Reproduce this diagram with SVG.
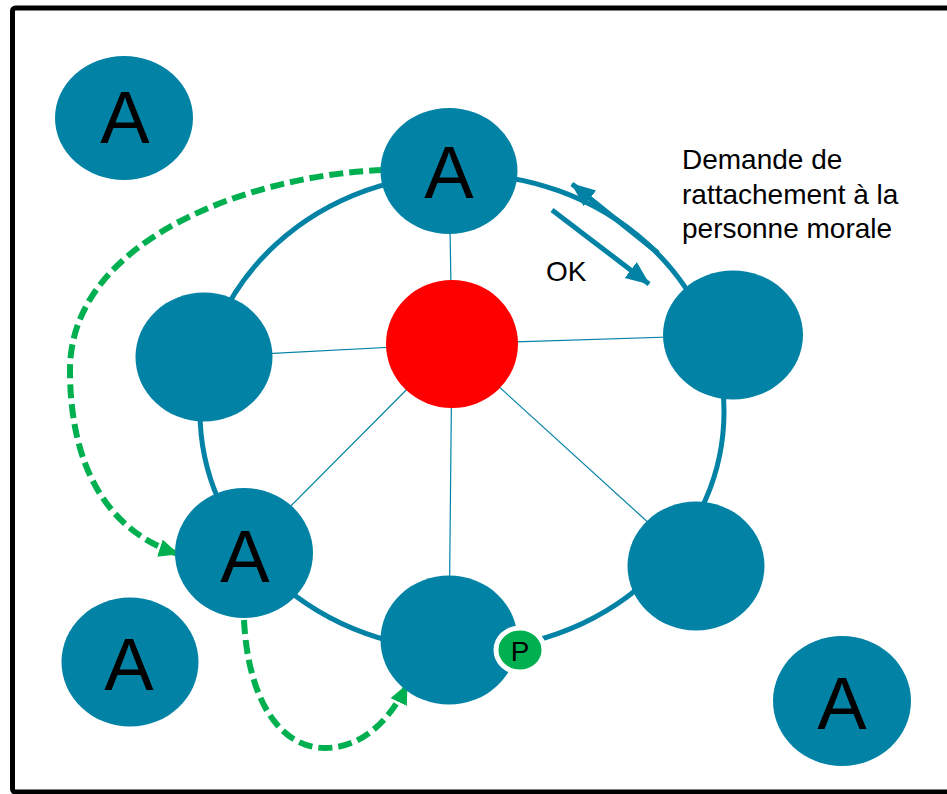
<svg xmlns="http://www.w3.org/2000/svg" width="947" height="794" viewBox="0 0 947 794">
<style>
.node{fill:#0282A5}
.lbl{font-family:"Liberation Sans",Arial,sans-serif;fill:#000}
.big{font-size:74px;text-anchor:middle}
.ring{fill:none;stroke:#0282A5;stroke-width:5}
.spoke{stroke:#0282A5;stroke-width:1.2}
.green{fill:none;stroke:#00B050;stroke-width:6;stroke-dasharray:14 6}
.teal{fill:none;stroke:#0282A5;stroke-width:5}
</style>
<defs>
<marker id="gh" markerUnits="userSpaceOnUse" markerWidth="22" markerHeight="20" refX="19" refY="9" orient="auto">
<path d="M0,0 L20,9 L0,18 z" fill="#00B050"/>
</marker>
<marker id="th" markerUnits="userSpaceOnUse" markerWidth="26" markerHeight="22" refX="23" refY="10" orient="auto">
<path d="M0,0 L24,10 L0,20 z" fill="#0282A5"/>
</marker>
</defs>
<rect x="12.5" y="8" width="945" height="784" rx="3" fill="#fff" stroke="#000" stroke-width="5"/>
<g id="connectors">
<ellipse class="ring" cx="462" cy="412" rx="262" ry="238"/>
<line class="spoke" x1="452" y1="344" x2="204" y2="357"/>
<line class="spoke" x1="452" y1="344" x2="449" y2="171"/>
<line class="spoke" x1="452" y1="344" x2="733" y2="335"/>
<line class="spoke" x1="452" y1="344" x2="244" y2="553"/>
<line class="spoke" x1="452" y1="344" x2="449" y2="640"/>
<line class="spoke" x1="452" y1="344" x2="696" y2="566"/>
<path class="green" d="M383,170 C250,175 70,240 70,370 C70,470 110,532 178,554" marker-end="url(#gh)"/>
<path class="green" d="M244,620 C248,700 280,748 325,748 C362,748 390,720 407,685" marker-end="url(#gh)"/>
<path class="teal" d="M658,253 L572,184" marker-end="url(#th)"/>
<path class="teal" d="M552,210 L649,284" marker-end="url(#th)"/>
</g>
<g id="n-a-topleft"><ellipse class="node" cx="124" cy="118" rx="69" ry="62"/><text class="lbl big" x="125" y="143">A</text></g>
<g id="n-a-top"><ellipse class="node" cx="449" cy="171" rx="68.5" ry="63"/><text class="lbl big" x="449" y="198">A</text></g>
<g id="n-center"><ellipse cx="452" cy="344" rx="66" ry="64" fill="#FF0000"/></g>
<g id="n-leftmid"><ellipse class="node" cx="204" cy="357" rx="68.5" ry="64.5"/></g>
<g id="n-rightmid"><ellipse class="node" cx="733" cy="335" rx="70" ry="64.5"/></g>
<g id="n-a-leftbottom"><ellipse class="node" cx="244" cy="553" rx="69" ry="65"/><text class="lbl big" x="245" y="582">A</text></g>
<g id="n-bottom"><ellipse class="node" cx="449" cy="640" rx="68.5" ry="64.5"/></g>
<g id="n-rightbottom"><ellipse class="node" cx="696" cy="566" rx="68.5" ry="64.5"/></g>
<g id="n-a-bottomleft"><ellipse class="node" cx="130" cy="662" rx="68.5" ry="64.5"/><text class="lbl big" x="129" y="690">A</text></g>
<g id="n-a-bottomright"><ellipse class="node" cx="842" cy="701" rx="69" ry="65"/><text class="lbl big" x="842" y="729">A</text></g>
<g id="n-p"><ellipse cx="520" cy="650" rx="24" ry="22" fill="#00B050" stroke="#fff" stroke-width="5"/><text class="lbl" x="520" y="661" font-size="28" text-anchor="middle">P</text></g>
<g id="labels">
<text class="lbl" font-size="28" x="546" y="281">OK</text>
<text class="lbl" font-size="28" x="682" y="169">Demande de</text>
<text class="lbl" font-size="28" x="682" y="204">rattachement à la</text>
<text class="lbl" font-size="28" x="682" y="238">personne morale</text>
</g>
</svg>
